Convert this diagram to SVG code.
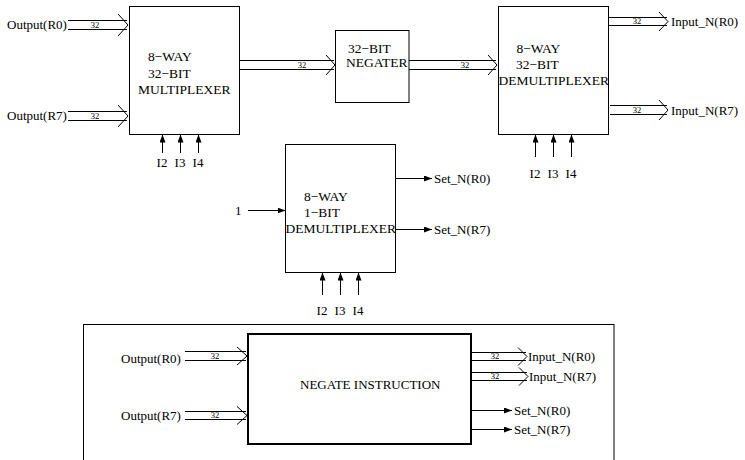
<svg xmlns="http://www.w3.org/2000/svg" width="745" height="460" viewBox="0 0 745 460">
<style>
  .box { fill: #fff; stroke: #000; stroke-width: 1; }
  .thick { fill: #fff; stroke: #000; stroke-width: 2; }
  .frame { fill: none; stroke: #000; stroke-width: 1; }
  .t { font-family: "Liberation Serif", "Times New Roman", serif; font-size: 13.5px; fill: #000; }
  .lbl { font-family: "Liberation Serif", "Times New Roman", serif; font-size: 13px; fill: #000; }
  .w { font-family: "Liberation Serif", "Times New Roman", serif; font-size: 8.5px; fill: #000; text-anchor: middle; }
  .mid { text-anchor: middle; }
  .bus line, .bus polyline { stroke: #000; stroke-width: 1; fill: none; }
  .wire { stroke: #000; stroke-width: 1; fill: none; marker-end: url(#ah); }
</style>
<defs>
  <marker id="ah" markerUnits="userSpaceOnUse" markerWidth="8" markerHeight="6" refX="8" refY="3" orient="auto">
    <path d="M0,0 L8,3 L0,6 z" fill="#000"/>
  </marker>
</defs>
<rect width="745" height="460" fill="#fff"/>

<g id="frame">
  <rect class="frame" x="83.5" y="324.5" width="530.5" height="160"/>
</g>

<g id="mux32">
  <rect class="box" x="129.5" y="6.5" width="110" height="128"/>
  <text class="t" x="148" y="61">8−WAY</text>
  <text class="t" x="148" y="78">32−BIT</text>
  <text class="t" x="138" y="94">MULTIPLEXER</text>
</g>

<g id="negater">
  <rect class="box" x="335.5" y="30.5" width="73.5" height="72"/>
  <text class="t" x="348" y="52.5">32−BIT</text>
  <text class="t" x="346" y="66.5">NEGATER</text>
</g>

<g id="demux32">
  <rect class="box" x="498.5" y="6.5" width="110" height="128"/>
  <text class="t" x="516.5" y="53">8−WAY</text>
  <text class="t" x="516" y="69">32−BIT</text>
  <text class="t" x="498.5" y="85">DEMULTIPLEXER</text>
</g>

<g id="demux1">
  <rect class="box" x="285.5" y="144.5" width="110" height="128"/>
  <text class="t" x="304" y="200.5">8−WAY</text>
  <text class="t" x="304" y="217">1−BIT</text>
  <text class="t" x="285.5" y="233">DEMULTIPLEXER</text>
</g>

<g id="negate-instruction">
  <rect class="thick" x="248" y="334" width="223" height="110"/>
  <text class="lbl" x="300" y="388.5">NEGATE INSTRUCTION</text>
</g>

<g id="terminals">
  <text class="lbl" x="7" y="28.5">Output(R0)</text>
  <text class="lbl" x="7" y="119.5">Output(R7)</text>
  <text class="lbl" x="671" y="25.5">Input_N(R0)</text>
  <text class="lbl" x="671" y="114.5">Input_N(R7)</text>
  <text class="lbl mid" x="162" y="166.5">I2</text>
  <text class="lbl mid" x="180" y="166.5">I3</text>
  <text class="lbl mid" x="198" y="166.5">I4</text>
  <text class="lbl mid" x="535" y="177.5">I2</text>
  <text class="lbl mid" x="553" y="177.5">I3</text>
  <text class="lbl mid" x="571" y="177.5">I4</text>
  <text class="lbl" x="235" y="214.5">1</text>
  <text class="lbl" x="434" y="182.5">Set_N(R0)</text>
  <text class="lbl" x="434" y="233.5">Set_N(R7)</text>
  <text class="lbl mid" x="322" y="314.5">I2</text>
  <text class="lbl mid" x="340" y="314.5">I3</text>
  <text class="lbl mid" x="358" y="314.5">I4</text>
  <text class="lbl" x="121" y="362.5">Output(R0)</text>
  <text class="lbl" x="121" y="419.5">Output(R7)</text>
  <text class="lbl" x="528" y="360.5">Input_N(R0)</text>
  <text class="lbl" x="529" y="380.5">Input_N(R7)</text>
  <text class="lbl" x="514" y="414.5">Set_N(R0)</text>
  <text class="lbl" x="514" y="433.5">Set_N(R7)</text>
</g>

<g id="connectors">
  <g class="bus">
    <line x1="68" y1="20.5" x2="127" y2="20.5"/><line x1="68" y1="29.5" x2="127" y2="29.5"/>
    <polyline points="118,14 128,25 118,36"/>
    <line x1="68" y1="111.5" x2="127" y2="111.5"/><line x1="68" y1="120.5" x2="127" y2="120.5"/>
    <polyline points="118,105 128,116 118,127"/>
    <line x1="239.5" y1="60.5" x2="334" y2="60.5"/><line x1="239.5" y1="69.5" x2="334" y2="69.5"/>
    <polyline points="326,55 335,65 326,75"/>
    <line x1="409" y1="60.5" x2="496" y2="60.5"/><line x1="409" y1="69.5" x2="496" y2="69.5"/>
    <polyline points="488,55 497,65 488,75"/>
    <line x1="608.5" y1="17.5" x2="667" y2="17.5"/><line x1="608.5" y1="25.5" x2="667" y2="25.5"/>
    <polyline points="659,12 668,21.5 659,31"/>
    <line x1="610" y1="105.5" x2="667" y2="105.5"/><line x1="610" y1="114.5" x2="667" y2="114.5"/>
    <polyline points="659,100 668,110 659,120"/>
    <line x1="185" y1="351.5" x2="246" y2="351.5"/><line x1="185" y1="360.5" x2="246" y2="360.5"/>
    <polyline points="237,347 247,356 237,365"/>
    <line x1="185" y1="411.5" x2="246" y2="411.5"/><line x1="185" y1="419.5" x2="246" y2="419.5"/>
    <polyline points="237,406.5 247,415.5 237,424.5"/>
    <line x1="472" y1="352.5" x2="526" y2="352.5"/><line x1="472" y1="360.5" x2="526" y2="360.5"/>
    <polyline points="518,347.5 527,356.5 518,365.5"/>
    <line x1="472" y1="372.5" x2="527" y2="372.5"/><line x1="472" y1="380.5" x2="527" y2="380.5"/>
    <polyline points="519,367.5 528,376.5 519,385.5"/>
  </g>
  <g>
    <text class="w" x="95" y="28">32</text>
    <text class="w" x="95" y="119">32</text>
    <text class="w" x="302" y="68">32</text>
    <text class="w" x="465" y="68">32</text>
    <text class="w" x="637" y="24">32</text>
    <text class="w" x="637" y="113">32</text>
    <text class="w" x="215" y="359">32</text>
    <text class="w" x="215" y="418">32</text>
    <text class="w" x="495" y="359">32</text>
    <text class="w" x="495" y="379">32</text>
  </g>
  <path class="wire" d="M162.5,153 V134.5"/>
  <path class="wire" d="M180.5,153 V134.5"/>
  <path class="wire" d="M198.5,153 V134.5"/>
  <path class="wire" d="M535.5,157 V134.5"/>
  <path class="wire" d="M553.5,157 V134.5"/>
  <path class="wire" d="M571.5,157 V134.5"/>
  <path class="wire" d="M322.5,295 V272.5"/>
  <path class="wire" d="M340.5,295 V272.5"/>
  <path class="wire" d="M358.5,295 V272.5"/>
  <path class="wire" d="M248,210.5 H285.5"/>
  <path class="wire" d="M395.5,178.5 H432"/>
  <path class="wire" d="M395.5,229.5 H432"/>
  <path class="wire" d="M472,410.5 H512"/>
  <path class="wire" d="M472,429.5 H512"/>
</g>
</svg>
